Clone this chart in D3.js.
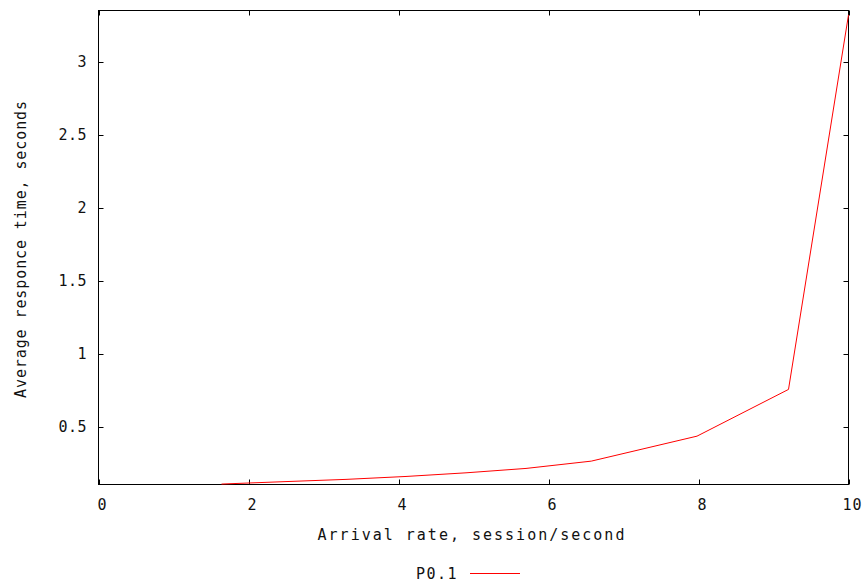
<!DOCTYPE html>
<html>
<head>
<meta charset="utf-8">
<script src="https://cdn.jsdelivr.net/npm/d3@7"></script>
<style>
  body { margin: 0; background: #fff; }
  text { font-family: "DejaVu Sans Mono", monospace; fill: #111; }
</style>
</head>
<body>
<svg width="868" height="587"></svg>
<script>
// arrival rate (session/second) and average response time (s)
const rates = [1.64, 2.5, 3.3, 4.1, 4.9, 5.7, 6.57, 7.98, 9.2, 10];
const times = [0.108, 0.125, 0.14, 0.16, 0.185, 0.215, 0.265, 0.436, 0.756, 3.32];
const xTicks = [0, 2, 4, 6, 8, 10];
const yTicks = [0.5, 1, 1.5, 2, 2.5, 3];
const seriesName = "P0.1";

const data = rates.map((r, i) => ({ x: r, y: times[i] }));

const svg = d3.select("svg");
const plotL = 98.5, plotR = 848.5, plotT = 10.5, plotB = 484.5;

const x = d3.scaleLinear().domain([0, 10]).range([plotL, plotR]);
const y = d3.scaleLinear().domain([0.105, 3.35]).range([plotB, plotT]);

const tickLen = 5;
const ax = svg.append("g").attr("stroke", "#000").attr("stroke-width", 1);

// frame
ax.append("rect")
  .attr("x", plotL).attr("y", plotT)
  .attr("width", plotR - plotL).attr("height", plotB - plotT)
  .attr("fill", "none");

// x ticks (inward, mirrored on top)
xTicks.forEach(t => {
  const px = Math.round(x(t)) + 0.5;
  ax.append("line").attr("x1", px).attr("x2", px).attr("y1", plotB).attr("y2", plotB - tickLen);
  ax.append("line").attr("x1", px).attr("x2", px).attr("y1", plotT).attr("y2", plotT + tickLen);
  svg.append("text")
    .attr("x", x(t) + 4).attr("y", 510)
    .attr("text-anchor", "middle")
    .style("font-size", "15px")
    .style("letter-spacing", "1px")
    .text(t);
});

// y ticks (inward, mirrored on right)
yTicks.forEach(t => {
  const py = Math.round(y(t)) + 0.5;
  ax.append("line").attr("x1", plotL).attr("x2", plotL + tickLen).attr("y1", py).attr("y2", py);
  ax.append("line").attr("x1", plotR).attr("x2", plotR - tickLen).attr("y1", py).attr("y2", py);
  svg.append("text")
    .attr("x", 87).attr("y", y(t) + 5.5)
    .attr("text-anchor", "end")
    .style("font-size", "15px")
    .style("letter-spacing", "0.5px")
    .text(t);
});

// series line
const line = d3.line().x(d => x(d.x)).y(d => y(d.y));
svg.append("path")
  .datum(data)
  .attr("fill", "none")
  .attr("stroke", "#ff0000")
  .attr("stroke-width", 1)
  .attr("d", line);

// axis titles
svg.append("text")
  .attr("x", 472).attr("y", 540)
  .attr("text-anchor", "middle")
  .style("font-size", "15px")
  .style("letter-spacing", "2px")
  .text("Arrival rate, session/second");

svg.append("text")
  .attr("transform", "translate(26,249) rotate(-90)")
  .attr("text-anchor", "middle")
  .style("font-size", "15px")
  .style("letter-spacing", "0.9px")
  .text("Average responce time, seconds");

// legend
svg.append("text")
  .attr("x", 458).attr("y", 578.5)
  .attr("text-anchor", "end")
  .style("font-size", "15px")
  .style("letter-spacing", "1.5px")
  .text(seriesName);
svg.append("line")
  .attr("x1", 470).attr("x2", 520)
  .attr("y1", 573.5).attr("y2", 573.5)
  .attr("stroke", "#ff0000").attr("stroke-width", 1);
</script>
</body>
</html>
